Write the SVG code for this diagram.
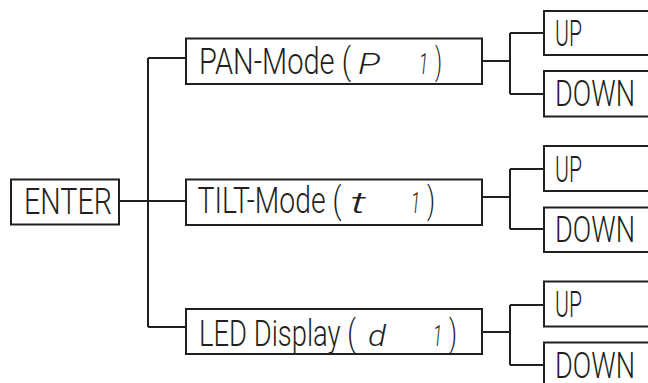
<svg xmlns="http://www.w3.org/2000/svg" width="648" height="383" viewBox="0 0 648 383">
<style>
.box{fill:#fff;stroke:#231f20;stroke-width:2}
.ln{fill:none;stroke:#231f20;stroke-width:2}
.t{font-family:Roboto,"Liberation Sans",Arial,sans-serif;font-weight:300;font-size:36px;fill:#231f20}
.s{font-family:Roboto,"Liberation Sans",Arial,sans-serif;font-weight:300;font-size:30px;font-style:italic;fill:#231f20}
</style>
<rect width="648" height="383" fill="#fff"/>
<g id="connectors">
<path class="ln" d="M119 201H186M148 58V327M148 58H186M148 327H186"/>
<path class="ln" d="M482 61H510M510 33V94M510 33H544M510 94H544"/>
<path class="ln" d="M482 197H510M510 169V229M510 169H544M510 229H544"/>
<path class="ln" d="M482 332H510M510 305V365M510 305H544M510 365H544"/>
</g>
<g id="enter">
<rect class="box" x="11" y="179.5" width="108" height="45"/>
<text class="t" x="24" y="213.5" textLength="88" lengthAdjust="spacingAndGlyphs">ENTER</text>
</g>
<g id="pan">
<rect class="box" x="186" y="38.5" width="296" height="45.5"/>
<text class="t" x="199" y="74" textLength="152" lengthAdjust="spacingAndGlyphs">PAN-Mode (</text>
<text class="s" x="358" y="74" textLength="22" lengthAdjust="spacingAndGlyphs">P</text>
<text class="s" x="419" y="74" textLength="9" lengthAdjust="spacingAndGlyphs">1</text>
<text class="t" x="435" y="74" textLength="7" lengthAdjust="spacingAndGlyphs">)</text>
</g>
<g id="tilt">
<rect class="box" x="186" y="179.5" width="296" height="45.5"/>
<text class="t" x="197.5" y="213" textLength="144" lengthAdjust="spacingAndGlyphs">TILT-Mode (</text>
<text class="s" x="350" y="213" textLength="16" lengthAdjust="spacingAndGlyphs">t</text>
<text class="s" x="411" y="213" textLength="9" lengthAdjust="spacingAndGlyphs">1</text>
<text class="t" x="427" y="213" textLength="8" lengthAdjust="spacingAndGlyphs">)</text>
</g>
<g id="led">
<rect class="box" x="186" y="309" width="296" height="45"/>
<text class="t" x="199" y="345.5" textLength="157" lengthAdjust="spacingAndGlyphs">LED Display (</text>
<text class="s" x="368" y="345.5" textLength="18" lengthAdjust="spacingAndGlyphs">d</text>
<text class="s" x="433" y="345.5" textLength="9" lengthAdjust="spacingAndGlyphs">1</text>
<text class="t" x="449" y="345.5" textLength="8" lengthAdjust="spacingAndGlyphs">)</text>
</g>
<g id="pan-up">
<rect class="box" x="544" y="11" width="120" height="44"/>
<text class="t" x="555" y="46" textLength="27" lengthAdjust="spacingAndGlyphs">UP</text>
</g>
<g id="pan-down">
<rect class="box" x="544" y="71" width="120" height="45.5"/>
<text class="t" x="555" y="106" textLength="80" lengthAdjust="spacingAndGlyphs">DOWN</text>
</g>
<g id="tilt-up">
<rect class="box" x="544" y="146" width="120" height="45"/>
<text class="t" x="555" y="182" textLength="27" lengthAdjust="spacingAndGlyphs">UP</text>
</g>
<g id="tilt-down">
<rect class="box" x="544" y="207.5" width="120" height="44.5"/>
<text class="t" x="555" y="241.5" textLength="80" lengthAdjust="spacingAndGlyphs">DOWN</text>
</g>
<g id="led-up">
<rect class="box" x="544" y="281.5" width="120" height="45"/>
<text class="t" x="555" y="316.5" textLength="27" lengthAdjust="spacingAndGlyphs">UP</text>
</g>
<g id="led-down">
<rect class="box" x="544" y="342.5" width="120" height="50"/>
<text class="t" x="555" y="377.5" textLength="80" lengthAdjust="spacingAndGlyphs">DOWN</text>
</g>
</svg>
